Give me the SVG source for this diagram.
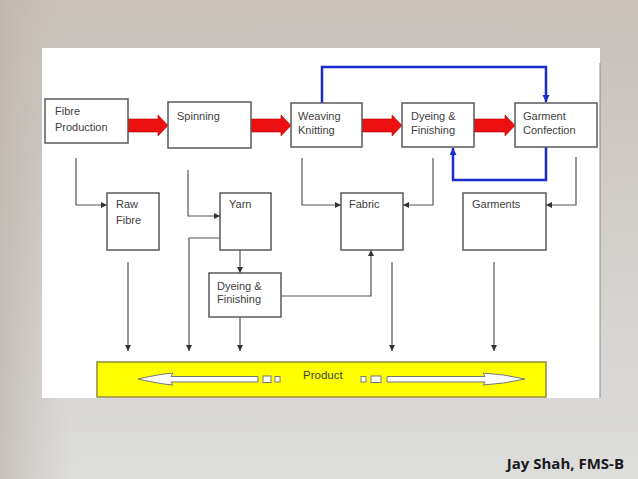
<svg xmlns="http://www.w3.org/2000/svg" width="638" height="479" viewBox="0 0 638 479">
<defs>
<linearGradient id="bg" x1="0" y1="0" x2="0" y2="1">
<stop offset="0" stop-color="#c8c0b9"/>
<stop offset="0.5" stop-color="#d3cfcb"/>
<stop offset="1" stop-color="#dddddc"/>
</linearGradient>
<linearGradient id="bgl" x1="0" y1="0" x2="1" y2="0">
<stop offset="0" stop-color="#b9afa6" stop-opacity="0.6"/>
<stop offset="0.12" stop-color="#c8c0b9" stop-opacity="0"/>
</linearGradient>
<marker id="ah" markerWidth="7" markerHeight="7" refX="6" refY="3" orient="auto" markerUnits="userSpaceOnUse">
<path d="M0,0 L6,3 L0,6 z" fill="#333"/>
</marker>
<marker id="bh" markerWidth="8" markerHeight="8" refX="7" refY="3.5" orient="auto" markerUnits="userSpaceOnUse">
<path d="M0,0 L7,3.5 L0,7 z" fill="#1a2bd0"/>
</marker>
<style>
.box{fill:#fff;stroke:#5a5a5a;stroke-width:1.5}
.t{font-family:"Liberation Sans",Arial,sans-serif;font-size:11px;fill:#3e3e3e}
.c{fill:none;stroke:#555;stroke-width:1.2}
.blue{fill:none;stroke:#1a2bd0;stroke-width:2.5}
.red{fill:#ee1010;stroke:#b00000;stroke-width:0.6}
.wa{fill:#fff;stroke:#777;stroke-width:1}
</style>
</defs>
<rect width="638" height="479" fill="url(#bg)"/>
<rect width="638" height="479" fill="url(#bgl)"/>
<rect x="42" y="48" width="558" height="350" fill="#fff"/>
<line x1="600" y1="63" x2="600" y2="398" stroke="#8a8a8a" stroke-width="1"/>

<g id="connectors">
<path class="red" d="M128,119 L158,119 L158,115 L168,125.5 L158,136 L158,132 L128,132 z"/>
<path class="red" d="M251,119 L281,119 L281,115 L291,125.5 L281,136 L281,132 L251,132 z"/>
<path class="red" d="M362,119 L392,119 L392,115 L402,125.5 L392,136 L392,132 L362,132 z"/>
<path class="red" d="M474,119 L505,119 L505,115 L515,125.5 L505,136 L505,132 L474,132 z"/>
<path class="blue" d="M322,103 L322,67 L546,67 L546,102" marker-end="url(#bh)"/>
<path class="blue" d="M546,147 L546,180 L453,180 L453,148" marker-end="url(#bh)"/>
<path class="c" d="M76,158 L76,205 L107,205" marker-end="url(#ah)"/>
<path class="c" d="M188,170 L188,216 L220,216" marker-end="url(#ah)"/>
<path class="c" d="M302,158 L302,205 L341,205" marker-end="url(#ah)"/>
<path class="c" d="M433,158 L433,205 L403,205" marker-end="url(#ah)"/>
<path class="c" d="M576,157 L576,205 L546,205" marker-end="url(#ah)"/>
<path class="c" d="M220,238 L189,238 L189,351" marker-end="url(#ah)"/>
<path class="c" d="M128,262 L128,351" marker-end="url(#ah)"/>
<path class="c" d="M240,250 L240,273" marker-end="url(#ah)"/>
<path class="c" d="M240,317 L240,351" marker-end="url(#ah)"/>
<path class="c" d="M281,296 L371,296 L371,250" marker-end="url(#ah)"/>
<path class="c" d="M392,262 L392,351" marker-end="url(#ah)"/>
<path class="c" d="M494,262 L494,351" marker-end="url(#ah)"/>
</g>

<g id="fibre-production">
<rect class="box" x="45" y="99" width="83" height="44"/>
<text class="t" x="55" y="115">Fibre</text>
<text class="t" x="55" y="131">Production</text>
</g>
<g id="spinning">
<rect class="box" x="168" y="102" width="83" height="46"/>
<text class="t" x="177" y="120">Spinning</text>
</g>
<g id="weaving-knitting">
<rect class="box" x="291" y="103" width="71" height="44"/>
<text class="t" x="298" y="120">Weaving</text>
<text class="t" x="298" y="134">Knitting</text>
</g>
<g id="dyeing-finishing">
<rect class="box" x="402" y="103" width="72" height="44"/>
<text class="t" x="411" y="120">Dyeing &amp;</text>
<text class="t" x="411" y="134">Finishing</text>
</g>
<g id="garment-confection">
<rect class="box" x="515" y="103" width="82" height="44"/>
<text class="t" x="523" y="120">Garment</text>
<text class="t" x="523" y="134">Confection</text>
</g>
<g id="raw-fibre">
<rect class="box" x="107" y="193" width="52" height="57"/>
<text class="t" x="116" y="208">Raw</text>
<text class="t" x="116" y="224">Fibre</text>
</g>
<g id="yarn">
<rect class="box" x="220" y="193" width="51" height="57"/>
<text class="t" x="229" y="208">Yarn</text>
</g>
<g id="yarn-dyeing-finishing">
<rect class="box" x="209" y="273" width="72" height="44"/>
<text class="t" x="217" y="290">Dyeing &amp;</text>
<text class="t" x="217" y="303">Finishing</text>
</g>
<g id="fabric">
<rect class="box" x="341" y="193" width="62" height="57"/>
<text class="t" x="349" y="208">Fabric</text>
</g>
<g id="garments">
<rect class="box" x="463" y="193" width="83" height="57"/>
<text class="t" x="472" y="208">Garments</text>
</g>
<g id="product">
<rect x="97" y="362" width="449" height="35" fill="#ffff00" stroke="#8c8c3c" stroke-width="1.5"/>
<path class="wa" d="M138,379 Q160,374 173,373 L171,376.5 L258,376.5 L258,382 L171,382 L173,385 Q160,384 138,379 z"/>
<rect class="wa" x="263" y="376" width="8" height="6.5"/>
<rect class="wa" x="275" y="376.5" width="5" height="5.5"/>
<rect class="wa" x="361" y="376.5" width="5" height="5.5"/>
<rect class="wa" x="371" y="376" width="10" height="6.5"/>
<path class="wa" d="M525,379 Q503,374 483,373 L485,376.5 L387,376.5 L387,382 L485,382 L483,385 Q503,384 525,379 z"/>
<text class="t" x="303" y="379" style="font-size:11.5px">Product</text>
</g>
<text x="624" y="469" text-anchor="end" font-family="'Open Sans','Liberation Sans',sans-serif" font-weight="bold" font-size="15" fill="#1a1a1a">Jay Shah, FMS-B</text>
</svg>
